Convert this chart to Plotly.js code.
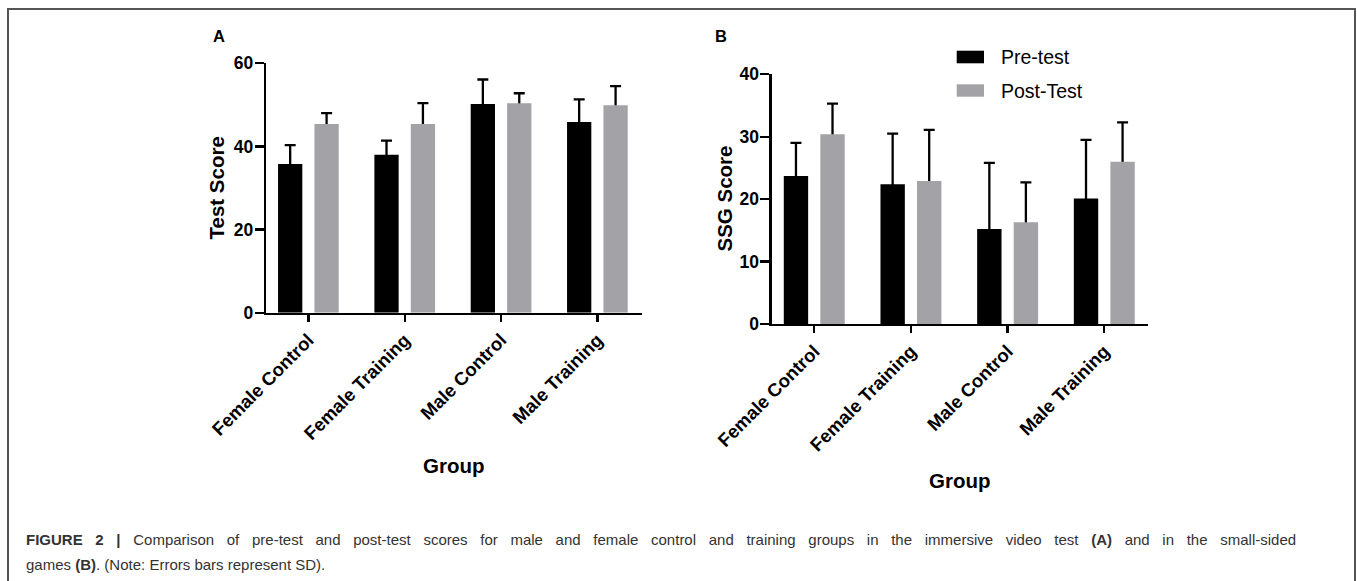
<!DOCTYPE html>
<html>
<head>
<meta charset="utf-8">
<script src="https://cdn.plot.ly/plotly-3.0.1.min.js"></script>
<style>
  html, body { margin: 0; padding: 0; background: #ffffff; }
  #chart { width: 1357px; height: 581px; }
</style>
</head>
<body>
<div id="chart"></div>
<script>
// ---- data ----
const categories = ['Female Control', 'Female Training', 'Male Control', 'Male Training'];
const seriesNames = ['Pre-test', 'Post-Test'];

// Panel A: immersive video test score
const testPre    = [35.8, 38.0, 50.2, 45.9];
const testPreSD  = [4.5, 3.4, 5.9, 5.4];
const testPost   = [45.4, 45.4, 50.4, 49.9];
const testPostSD = [2.6, 5.0, 2.4, 4.6];

// Panel B: small-sided games score
const ssgPre    = [23.7, 22.4, 15.2, 20.1];
const ssgPreSD  = [5.3, 8.1, 10.6, 9.4];
const ssgPost   = [30.4, 22.9, 16.3, 26.0];
const ssgPostSD = [4.9, 8.2, 6.4, 6.3];

const yTicksA = [0, 20, 40, 60];
const yTicksB = [0, 10, 20, 30, 40];

// ---- styling ----
const W = 1357, H = 581;
const FONT = 'Liberation Sans, Arial, Helvetica, sans-serif';
const PRE_COLOR = '#000000';
const POST_COLOR = '#a3a2a7';
const px = x => x / W;
const py = y => 1 - y / H;

const BAR_W = 0.252;
const HALF_SEP = 0.189;

function offsetFor(isPre) { return isPre ? -HALF_SEP - BAR_W / 2 : HALF_SEP - BAR_W / 2; }

// bars (no error bars)
function barTrace(vals, name, color, xa, ya, isPre) {
  return {
    type: 'bar', x: categories, y: vals, name: name,
    xaxis: xa, yaxis: ya, width: BAR_W, offset: offsetFor(isPre),
    marker: { color: color, line: { width: 0 } },
    showlegend: false, hoverinfo: 'x+y'
  };
}
// upper-only SD bars: drawn first (underneath) so that the lower end is hidden by the bar
function sdTrace(vals, sd, name, xa, ya, isPre) {
  return {
    type: 'bar', x: categories, y: vals, name: name + ' SD',
    xaxis: xa, yaxis: ya, width: BAR_W, offset: offsetFor(isPre),
    marker: { color: 'rgba(0,0,0,0)', line: { width: 0 } },
    error_y: {
      type: 'data', symmetric: false, array: sd,
      arrayminus: vals.map(v => v / 2),
      color: '#000000', thickness: 2.3, width: 5.5
    },
    showlegend: false, hoverinfo: 'skip'
  };
}

const data = [
  sdTrace(testPre, testPreSD, seriesNames[0], 'x', 'y', true),
  sdTrace(testPost, testPostSD, seriesNames[1], 'x', 'y', false),
  sdTrace(ssgPre, ssgPreSD, seriesNames[0], 'x2', 'y2', true),
  sdTrace(ssgPost, ssgPostSD, seriesNames[1], 'x2', 'y2', false),
  barTrace(testPre, seriesNames[0], PRE_COLOR, 'x', 'y', true),
  barTrace(testPost, seriesNames[1], POST_COLOR, 'x', 'y', false),
  barTrace(ssgPre, seriesNames[0], PRE_COLOR, 'x2', 'y2', true),
  barTrace(ssgPost, seriesNames[1], POST_COLOR, 'x2', 'y2', false)
];

const yTickFont = { family: FONT, size: 17.5, color: '#000000', weight: 'bold' };
const xTickFont = { family: FONT, size: 18.5, color: '#000000', weight: 'bold' };

function xAxis(domain, anchor, range) {
  return {
    domain: domain, anchor: anchor, type: 'category',
    range: range, showgrid: false, zeroline: false,
    showline: true, linecolor: '#000000', linewidth: 2.3,
    ticks: 'outside', ticklen: 7, tickwidth: 2.3, tickcolor: '#000000',
    tickangle: -45, tickfont: xTickFont, fixedrange: true
  };
}
function yAxis(domain, anchor, range, ticks) {
  return {
    domain: domain, anchor: anchor, range: range,
    tickmode: 'array', tickvals: ticks, ticktext: ticks.map(String),
    showgrid: false, zeroline: false,
    showline: true, linecolor: '#000000', linewidth: 2.3,
    ticks: 'outside', ticklen: 9, tickwidth: 2.3, tickcolor: '#000000',
    ticklabelstandoff: -2,
    tickfont: yTickFont, fixedrange: true
  };
}

const titleFont = { family: FONT, size: 20.5, color: '#000000' };
const capFont = { family: FONT, size: 15, color: '#333333' };
const CAPTION_1 = '<b>FIGURE 2 |</b> Comparison of pre-test and post-test scores for male and female control and training groups in the immersive video test <b>(A)</b> and in the small-sided';
const CAPTION_2 = 'games <b>(B)</b>. (Note: Errors bars represent SD).';

const annotations = [
  { text: '<b>A</b>', x: px(219.5), y: py(35.5), font: { family: FONT, size: 16.5, color: '#000' } },
  { text: '<b>B</b>', x: px(721), y: py(35.5), font: { family: FONT, size: 16.5, color: '#000' } },
  { text: '<b>Test Score</b>', x: px(216.5), y: py(188), textangle: -90, font: titleFont },
  { text: '<b>SSG Score</b>', x: px(723.5), y: py(199), textangle: -90, font: titleFont },
  { text: '<b>Group</b>', x: px(453.5), y: py(465), font: titleFont },
  { text: '<b>Group</b>', x: px(960), y: py(480), font: titleFont },
  { text: seriesNames[0], x: px(999), y: py(57), xanchor: 'left', font: { family: FONT, size: 19.5, color: '#000' } },
  { text: seriesNames[1], x: px(999), y: py(91), xanchor: 'left', font: { family: FONT, size: 19.5, color: '#000' } },
  { text: CAPTION_1, x: px(24), y: py(539), xanchor: 'left', font: capFont },
  { text: CAPTION_2, x: px(24), y: py(564), xanchor: 'left', font: capFont }
].map(a => Object.assign({ xref: 'paper', yref: 'paper', showarrow: false, xanchor: 'center', yanchor: 'middle' }, a));

const shapes = [
  // legend swatches
  { type: 'rect', xref: 'paper', yref: 'paper', x0: px(956.7), x1: px(984), y0: py(50.7), y1: py(63.3),
    fillcolor: PRE_COLOR, line: { width: 0 } },
  { type: 'rect', xref: 'paper', yref: 'paper', x0: px(956.7), x1: px(984), y0: py(84.3), y1: py(96.7),
    fillcolor: POST_COLOR, line: { width: 0 } },
  // figure frame (open at the bottom)
  { type: 'path', xref: 'paper', yref: 'paper',
    path: `M ${px(8)} ${py(600)} L ${px(8)} ${py(9)} L ${px(1355)} ${py(9)} L ${px(1355)} ${py(600)}`,
    line: { color: '#555555', width: 2 } }
];

const layout = {
  width: W, height: H, autosize: false,
  margin: { l: 0, r: 0, t: 0, b: 0, pad: 0 },
  paper_bgcolor: '#ffffff', plot_bgcolor: 'rgba(0,0,0,0)',
  barmode: 'overlay',
  showlegend: false,
  font: { family: FONT, color: '#000000' },
  xaxis: xAxis([px(266), px(641.7)], 'y', [-0.44, 3.46]),
  yaxis: yAxis([py(312.7), py(63.3)], 'x', [0, 60], yTicksA),
  xaxis2: xAxis([px(771.7), px(1148)], 'y2', [-0.44, 3.452]),
  yaxis2: yAxis([py(324), py(74.3)], 'x2', [0, 40], yTicksB),
  annotations: annotations,
  shapes: shapes
};

Plotly.newPlot('chart', data, layout, { displayModeBar: false, staticPlot: true }).then(() => {
  // justify the first caption line like the printed figure (left edge 24px -> right edge 1294px)
  const t = document.querySelector('g.annotation[data-index="8"] text.annotation-text');
  if (t) {
    const leftBefore = t.getBBox().x;
    const w = t.getComputedTextLength();
    const spaces = (t.textContent.match(/ /g) || []).length;
    const target = 1294 - 24;
    if (spaces > 0 && w < target) {
      t.style.wordSpacing = ((target - w) / spaces).toFixed(2) + 'px';
      const leftAfter = t.getBBox().x;
      const x0 = parseFloat(t.getAttribute('x')) || 0;
      t.setAttribute('x', (x0 + (leftBefore - leftAfter)).toFixed(2));
    }
  }
});
</script>
</body>
</html>
